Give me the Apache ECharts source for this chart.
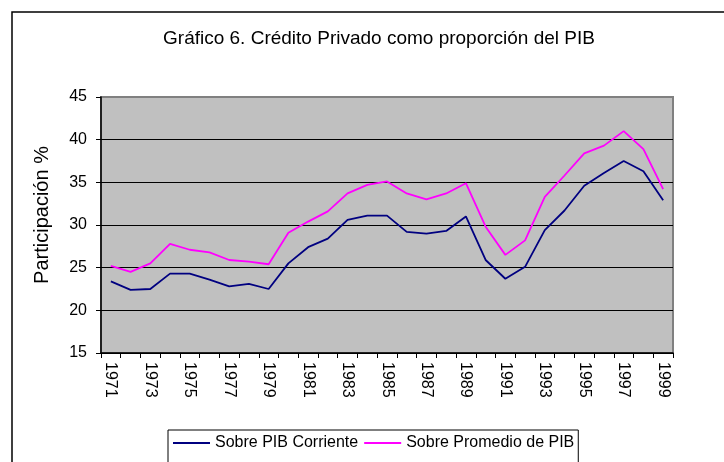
<!DOCTYPE html>
<html>
<head>
<meta charset="utf-8">
<script src="https://cdn.jsdelivr.net/npm/echarts@6/dist/echarts.min.js"></script>
<style>
html,body{margin:0;padding:0;background:#fff;}
#c{width:724px;height:462px;}
</style>
</head>
<body>
<div id="c"></div>
<script>
var years = ['1971','1972','1973','1974','1975','1976','1977','1978','1979','1980',
  '1981','1982','1983','1984','1985','1986','1987','1988','1989','1990',
  '1991','1992','1993','1994','1995','1996','1997','1998','1999'];
var sobrePIBCorriente = [23.4,22.4,22.5,24.3,24.3,23.6,22.8,23.1,22.5,25.5,
  27.4,28.4,30.6,31.1,31.1,29.2,29.0,29.3,31.0,25.9,
  23.7,25.1,29.4,31.7,34.6,36.1,37.5,36.3,32.9];
var sobrePromedioPIB = [25.2,24.5,25.5,27.8,27.1,26.8,25.9,25.7,25.4,29.1,
  30.4,31.6,33.7,34.7,35.1,33.7,33.0,33.7,34.9,29.8,
  26.5,28.2,33.3,35.8,38.4,39.3,41.0,38.9,34.2];
var seriesNames = ['Sobre PIB Corriente','Sobre Promedio de PIB'];
var titleText = 'Gráfico 6. Crédito Privado como proporción del PIB';
var yAxisTitle = 'Participación %';

var FONT = '"Liberation Sans", Arial, sans-serif';
var chart = echarts.init(document.getElementById('c'), null, {renderer:'canvas'});
chart.setOption({
  backgroundColor: '#ffffff',
  animation: false,
  graphic: [{
    type: 'rect', z: -10, silent: true,
    shape: {x: 12, y: 12, width: 800, height: 600},
    style: {fill: 'none', stroke: '#000', lineWidth: 1.5}
  }],
  title: {
    text: titleText,
    left: 374, top: 24, textAlign: 'center',
    textStyle: {fontFamily: FONT, fontSize: 19, fontWeight: 'normal', color: '#000'}
  },
  grid: {
    left: 101, top: 97, width: 572, height: 256,
    show: true, backgroundColor: '#C0C0C0', borderColor: '#808080', borderWidth: 2
  },
  legend: {
    data: seriesNames,
    left: 168, top: 430,
    padding: [5, 4, 30, 5],
    itemGap: 6,
    itemWidth: 37, itemHeight: 2,
    icon: 'rect',
    borderColor: '#000', borderWidth: 1,
    backgroundColor: '#fff',
    textStyle: {fontFamily: FONT, fontSize: 16, color: '#000'}
  },
  xAxis: {
    type: 'category',
    data: years,
    boundaryGap: true,
    axisLine: {lineStyle: {color: '#000', width: 1.5}},
    axisTick: {show: true, interval: 0, length: 5, lineStyle: {color: '#000'}},
    axisLabel: {interval: 1, rotate: -90, margin: 9, color: '#000',
      fontFamily: FONT, fontSize: 16},
    splitLine: {show: false}
  },
  yAxis: {
    type: 'value',
    min: 15, max: 45, interval: 5,
    name: yAxisTitle,
    nameLocation: 'middle',
    nameGap: 49,
    nameTextStyle: {fontFamily: FONT, fontSize: 20, color: '#000', padding: [0, 0, 0, 20]},
    axisLine: {show: true, lineStyle: {color: '#000', width: 1.5}},
    axisTick: {show: true, length: 5, lineStyle: {color: '#000'}},
    axisLabel: {margin: 14, color: '#000', fontFamily: FONT, fontSize: 16},
    splitLine: {show: true, lineStyle: {color: ['#000','#000','#000','#000','#000','#000','#808080'], width: 1.2}}
  },
  series: [{
    name: seriesNames[0], type: 'line', data: sobrePIBCorriente,
    symbol: 'none', lineStyle: {color: '#000080', width: 1.8}, itemStyle: {color: '#000080'}
  }, {
    name: seriesNames[1], type: 'line', data: sobrePromedioPIB,
    symbol: 'none', lineStyle: {color: '#FF00FF', width: 1.8}, itemStyle: {color: '#FF00FF'}
  }]
});
</script>
</body>
</html>
